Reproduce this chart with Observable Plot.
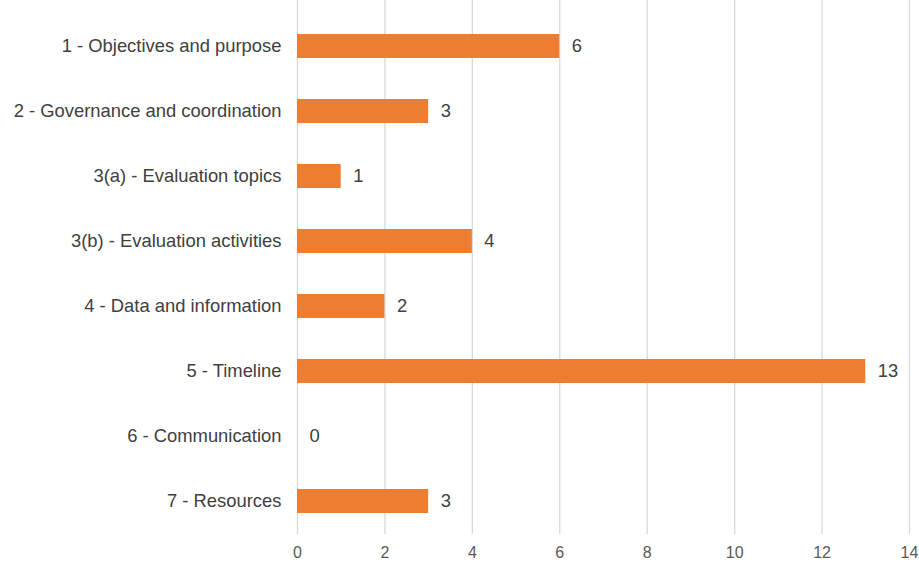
<!DOCTYPE html>
<html>
<head>
<meta charset="utf-8">
<script src="https://cdn.jsdelivr.net/npm/d3@7"></script>
<script src="https://cdn.jsdelivr.net/npm/@observablehq/plot@0.6"></script>
<style>
  html, body { margin: 0; padding: 0; background: #fff; overflow: hidden; }
  #chart svg { display: block; }
</style>
</head>
<body>
<div id="chart"></div>
<script>
const categories = [
  "1 - Objectives and purpose",
  "2 - Governance and coordination",
  "3(a) - Evaluation topics",
  "3(b) - Evaluation activities",
  "4 - Data and information",
  "5 - Timeline",
  "6 - Communication",
  "7 - Resources"
];
const values = [6, 3, 1, 4, 2, 13, 0, 3];
const xTicks = [0, 2, 4, 6, 8, 10, 12, 14];

const data = categories.map((c, i) => ({category: c, value: values[i]}));

const chart = Plot.plot({
  width: 919,
  height: 564,
  marginLeft: 297,
  marginRight: 10,
  marginTop: 0,
  marginBottom: 30,
  style: {fontFamily: "Liberation Sans, Arial, sans-serif", background: "#fff"},
  x: {domain: [0, 14], range: [297, 909], ticks: xTicks, label: null},
  y: {domain: categories, range: [13.5, 533.5], paddingInner: 0.63, paddingOuter: 0.315, label: null},
  marks: [
    Plot.ruleX(xTicks, {stroke: "#d9d9d9", strokeWidth: 1.3}),
    Plot.barX(data, {x: "value", y: "category", fill: "#ED7D31"}),
    Plot.text(data, {x: "value", y: "category", text: d => String(d.value), textAnchor: "start", dx: 12, fontSize: 18.4, fill: "#404040"}),
    Plot.axisY({tickSize: 0, tickPadding: 16, fontSize: 18.4, color: "#404040", label: null}),
    Plot.axisX({ticks: xTicks, tickSize: 0, tickPadding: 12, fontSize: 16, fontFamily: "Liberation Sans Narrow, Liberation Sans, sans-serif", color: "#595959", label: null})
  ]
});
document.getElementById("chart").appendChild(chart);
</script>
</body>
</html>
